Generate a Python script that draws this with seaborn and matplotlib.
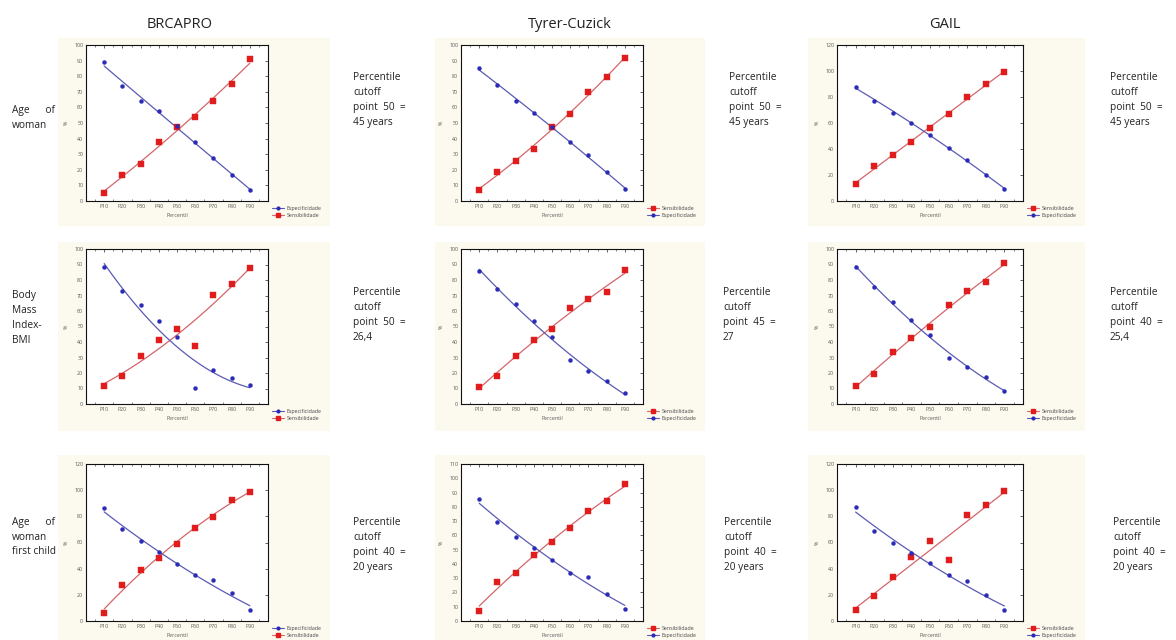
import numpy as np
import pandas as pd
import matplotlib
matplotlib.use("Agg")
import matplotlib.pyplot as plt
import seaborn as sns
from matplotlib.lines import Line2D
from matplotlib.ticker import MultipleLocator

# ---------------- data ----------------
percentis = ["P10", "P20", "P30", "P40", "P50", "P60", "P70", "P80", "P90"]
models = ["BRCAPRO", "Tyrer-Cuzick", "GAIL"]
row_labels = ["Age      of\nwoman", "Body\nMass\nIndex-\nBMI", "Age      of\nwoman\nfirst child"]

# Row 1: age of woman
esp_age_brcapro = [89.1, 74.0, 64.0, 57.9, 48.3, 37.7, 27.7, 16.8, 7.2]
sen_age_brcapro = [5.1, 16.8, 23.8, 37.7, 47.2, 53.6, 64.3, 74.9, 90.9]
esp_age_tc = [85.4, 74.2, 64.1, 56.3, 47.7, 38.1, 29.5, 18.3, 7.5]
sen_age_tc = [7.3, 18.7, 25.4, 33.1, 47.3, 55.9, 69.7, 79.6, 91.4]
esp_age_gail = [88.0, 77.3, 67.7, 60.1, 51.0, 40.8, 31.7, 20.1, 9.1]
sen_age_gail = [12.9, 26.8, 35.2, 45.6, 56.4, 66.6, 79.7, 89.7, 99.3]

# Row 2: body mass index
esp_bmi_brcapro = [88.1, 73.2, 63.8, 53.8, 43.4, 10.4, 21.9, 16.6, 12.1]
sen_bmi_brcapro = [11.5, 18.1, 30.9, 41.1, 48.5, 37.2, 70.6, 77.7, 87.7]
esp_bmi_tc = [86.0, 74.2, 64.5, 53.5, 43.4, 28.4, 21.5, 14.6, 7.1]
sen_bmi_tc = [11.2, 18.1, 31.0, 41.5, 48.6, 61.7, 67.7, 72.0, 86.5]
esp_bmi_gail = [88.7, 75.5, 65.6, 54.5, 44.2, 30.0, 23.6, 17.7, 8.4]
sen_bmi_gail = [11.9, 19.2, 33.6, 42.8, 49.9, 64.0, 72.8, 78.6, 90.9]

# Row 3: age of woman at first child
esp_fc_brcapro = [86.4, 70.4, 61.0, 52.4, 43.2, 34.8, 31.0, 21.1, 8.4]
sen_fc_brcapro = [5.8, 27.5, 38.6, 48.3, 58.5, 71.2, 79.8, 92.5, 98.4]
esp_fc_tc = [85.8, 69.4, 59.2, 51.0, 42.7, 33.9, 30.9, 18.8, 8.1]
sen_fc_tc = [7.2, 27.6, 33.9, 46.2, 55.7, 65.2, 77.3, 84.0, 95.8]
esp_fc_gail = [87.4, 68.9, 59.9, 52.2, 44.0, 35.0, 30.5, 19.9, 8.5]
sen_fc_gail = [8.5, 19.3, 33.6, 48.7, 61.5, 46.9, 80.8, 88.7, 99.3]

esp = [[esp_age_brcapro, esp_age_tc, esp_age_gail],
       [esp_bmi_brcapro, esp_bmi_tc, esp_bmi_gail],
       [esp_fc_brcapro, esp_fc_tc, esp_fc_gail]]
sen = [[sen_age_brcapro, sen_age_tc, sen_age_gail],
       [sen_bmi_brcapro, sen_bmi_tc, sen_bmi_gail],
       [sen_fc_brcapro, sen_fc_tc, sen_fc_gail]]

y_max = [[100, 100, 120], [100, 100, 100], [120, 110, 120]]

cutoff_texts = [
    ["Percentile\ncutoff\npoint  50  =\n45 years"] * 3,
    ["Percentile\ncutoff\npoint  50  =\n26,4", "Percentile\ncutoff\npoint  45  =\n27",
     "Percentile\ncutoff\npoint  40  =\n25,4"],
    ["Percentile\ncutoff\npoint  40  =\n20 years"] * 3,
]

esp_first = [[True, False, False], [True, False, False], [True, False, False]]

# ---------------- layout (pixels) ----------------
W, H = 1176, 640
sns.set_theme(style="white")
plt.rcParams["font.family"] = ["Open Sans", "DejaVu Sans"]

fig = plt.figure(figsize=(W / 100, H / 100), dpi=100)

bg_x = [(58, 330), (435, 705), (808, 1085)]
bg_y = [(38, 226), (242, 431), (455, 640)]
ax_x = [(86, 268), (461, 643), (837, 1023)]
ax_y = [(45, 201), (249, 404), (464, 621)]
title_x = [180, 570, 945]
txt_x = [[353, 729, 1110], [353, 723, 1110], [353, 724, 1113]]
txt_y = [100, 315, 545]
lab_y = [118, 318, 537]

def rect(xs, ys):
    return [xs[0] / W, 1 - ys[1] / H, (xs[1] - xs[0]) / W, (ys[1] - ys[0]) / H]

BLUE = "#2a2ab8"
BLUE_L = "#5a5ab4"
RED = "#e01c1c"
RED_L = "#d4656a"
BEIGE = "#fcf9ee"

x_pos = np.arange(1, 10)

for c, m in enumerate(models):
    fig.text(title_x[c] / W, 1 - 25 / H, m, ha="center", va="center", fontsize=10.5, color="#222222")

for r in range(3):
    fig.text(12 / W, 1 - lab_y[r] / H, row_labels[r], ha="left", va="center",
             fontsize=7.3, color="#222222", linespacing=1.5)
    for c in range(3):
        bg = fig.add_axes(rect(bg_x[c], bg_y[r]))
        bg.set_facecolor(BEIGE)
        bg.set_xticks([]); bg.set_yticks([])
        for s in bg.spines.values():
            s.set_visible(False)
        bg.set_zorder(0)

        ax = fig.add_axes(rect(ax_x[c], ax_y[r]))
        ax.set_zorder(1)
        ax.set_facecolor("white")
        df = pd.DataFrame({"x": x_pos, "esp": esp[r][c], "sen": sen[r][c]})

        sns.regplot(data=df, x="x", y="sen", order=2, ci=None, scatter=False, ax=ax,
                    line_kws=dict(color=RED_L, lw=0.9))
        sns.regplot(data=df, x="x", y="esp", order=2, ci=None, scatter=False, ax=ax,
                    line_kws=dict(color=BLUE_L, lw=0.9))
        sns.scatterplot(data=df, x="x", y="sen", ax=ax, color=RED, marker="s", s=13,
                        edgecolor=RED, linewidth=0.3, zorder=3)
        sns.scatterplot(data=df, x="x", y="esp", ax=ax, color=BLUE, marker="o", s=8,
                        edgecolor=BLUE, linewidth=0.3, zorder=3)

        ym = y_max[r][c]
        ax.set_xlim(0, 10)
        ax.set_ylim(0, ym)
        ax.set_xticks(x_pos)
        ax.set_xticklabels(percentis)
        ax.yaxis.set_major_locator(MultipleLocator(10 if ym <= 110 else 20))
        ax.xaxis.set_minor_locator(MultipleLocator(0.5))
        ax.tick_params(axis="both", which="major", labelsize=3.8, labelcolor="#555555",
                       direction="in", length=2, width=0.5, top=True, right=True, pad=2)
        ax.tick_params(axis="x", which="minor", direction="in", length=1.2, width=0.4,
                       top=True, bottom=True)
        ax.set_xlabel("Percentil", fontsize=3.8, color="#555555", labelpad=3)
        ax.set_ylabel("%", fontsize=3.8, color="#555555", labelpad=4)
        for s in ax.spines.values():
            s.set_visible(True)
            s.set_color("#111111")
            s.set_linewidth(0.8)

        h_esp = Line2D([], [], color=BLUE_L, lw=0.8, marker="o", markersize=2,
                       markerfacecolor=BLUE, markeredgecolor=BLUE)
        h_sen = Line2D([], [], color=RED_L, lw=0.8, marker="s", markersize=2.3,
                       markerfacecolor=RED, markeredgecolor=RED)
        if esp_first[r][c]:
            handles, labels = [h_esp, h_sen], ["Especificidade", "Sensibilidade"]
        else:
            handles, labels = [h_sen, h_esp], ["Sensibilidade", "Especificidade"]
        lx = (ax_x[c][1] + 4) / W
        ly = 1 - (ax_y[r][1] + 5) / H
        fig.legend(handles, labels, loc="upper left", bbox_to_anchor=(lx, ly),
                   fontsize=3.8, frameon=False, handlelength=2.2, handletextpad=0.5,
                   labelspacing=0.3, borderaxespad=0, borderpad=0,
                   labelcolor="#444444")

        fig.text(txt_x[r][c] / W, 1 - txt_y[r] / H, cutoff_texts[r][c], ha="left",
                 va="center", fontsize=7.3, color="#222222", linespacing=1.5)

fig.savefig("out.png", dpi=100, facecolor="white")
